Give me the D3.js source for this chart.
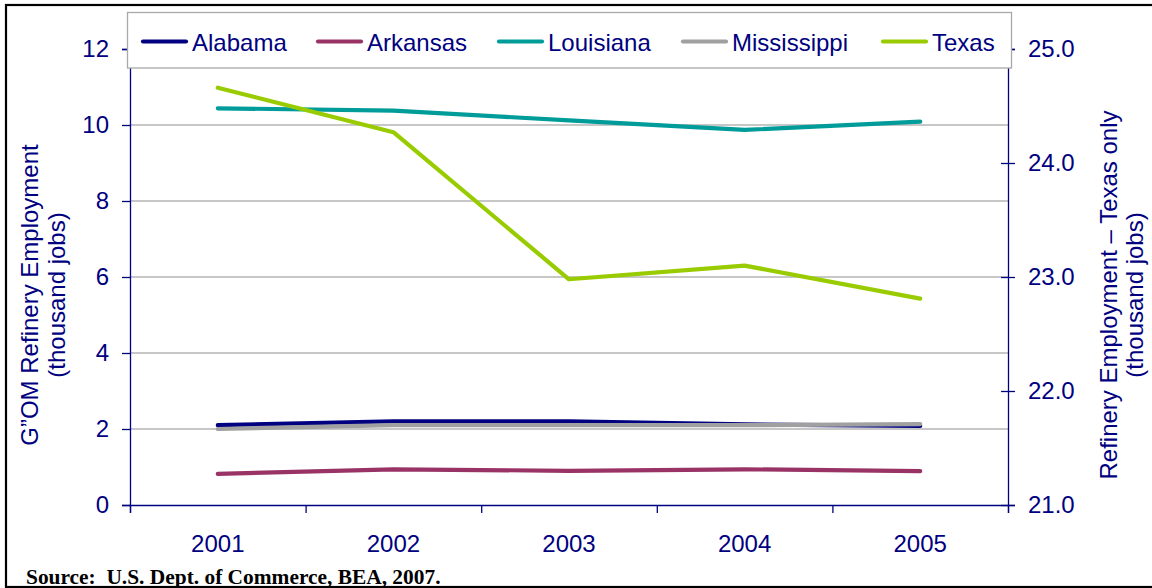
<!DOCTYPE html>
<html>
<head>
<meta charset="utf-8">
<script src="https://cdn.jsdelivr.net/npm/d3@7"></script>
<style>
  html, body { margin: 0; padding: 0; background: #fff; }
  svg { display: block; }
  text { font-family: "Liberation Sans", Arial, sans-serif; }
</style>
</head>
<body>
<svg id="chart" width="1152" height="588"></svg>
<script>
// ---- data ----
const years = ["2001", "2002", "2003", "2004", "2005"];
const alabama     = [2.10, 2.20, 2.20, 2.12, 2.08];
const arkansas    = [0.82, 0.94, 0.90, 0.94, 0.89];
const louisiana   = [10.44, 10.38, 10.12, 9.87, 10.09];
const mississippi = [2.00, 2.10, 2.10, 2.10, 2.13];
const texas       = [24.66, 24.27, 22.98, 23.10, 22.81];
const leftTicks  = [0, 2, 4, 6, 8, 10, 12];
const rightTicks = [21, 22, 23, 24, 25];
const seriesNames  = ["Alabama", "Arkansas", "Louisiana", "Mississippi", "Texas"];
const seriesColors = ["#000080", "#993366", "#009c9a", "#a0a0a0", "#99cc00"];

const series = [
  { name: seriesNames[0], values: alabama,     color: seriesColors[0], axis: "left" },
  { name: seriesNames[1], values: arkansas,    color: seriesColors[1], axis: "left" },
  { name: seriesNames[2], values: louisiana,   color: seriesColors[2], axis: "left" },
  { name: seriesNames[3], values: mississippi, color: seriesColors[3], axis: "left" },
  { name: seriesNames[4], values: texas,       color: seriesColors[4], axis: "right" }
];

const navy = "#000080";
const svg = d3.select("#chart");

// outer frame
svg.append("rect").attr("x", 6).attr("y", 5).attr("width", 1160).attr("height", 582)
  .attr("fill", "#fff").attr("stroke", "#000").attr("stroke-width", 2.2);

const L = 130, R = 1008, T = 49, B = 505;

const x = d3.scaleBand().domain(years).range([L, R]).padding(0);
const xEdges = d3.scaleLinear().domain([0, years.length]).range([L, R]);
const y = d3.scaleLinear().domain([0, 12]).range([B, T]);
const y2 = d3.scaleLinear().domain([21, 25]).range([B, T]);

// gridlines
svg.append("g").selectAll("line").data(leftTicks.filter(d => d > 0)).join("line")
  .attr("x1", L).attr("x2", R).attr("y1", d => y(d)).attr("y2", d => y(d))
  .attr("stroke", "#b4b4b4").attr("stroke-width", 1.5);

// left axis
const gl = svg.append("g").attr("transform", `translate(${L},0)`)
  .call(d3.axisLeft(y).tickValues(leftTicks).tickSize(8).tickPadding(13).tickFormat(d3.format("d")));
gl.select(".domain").attr("stroke", navy).attr("stroke-width", 1.3);
gl.selectAll(".tick line").attr("stroke", navy).attr("stroke-width", 1.3);
gl.selectAll(".tick text").attr("fill", navy).style("font-size", "24px")
  .style("font-family", "'Liberation Sans', Arial, sans-serif");

// right axis
const gr = svg.append("g").attr("transform", `translate(${R},0)`)
  .call(d3.axisRight(y2).tickValues(rightTicks).tickSize(7).tickPadding(13).tickFormat(d3.format(".1f")));
gr.select(".domain").attr("stroke", navy).attr("stroke-width", 1.3);
gr.selectAll(".tick line").attr("stroke", navy).attr("stroke-width", 1.3).attr("x1", -7);
gr.selectAll(".tick text").attr("fill", navy).style("font-size", "24px")
  .style("font-family", "'Liberation Sans', Arial, sans-serif");

// bottom axis: tick marks at band edges
const gb = svg.append("g").attr("transform", `translate(0,${B})`)
  .call(d3.axisBottom(xEdges).tickValues(d3.range(0, years.length + 1)).tickSize(8).tickFormat(""));
gb.select(".domain").attr("stroke", navy).attr("stroke-width", 1.3);
gb.selectAll(".tick line").attr("stroke", navy).attr("stroke-width", 1.3);
// labels
const gbl = svg.append("g").attr("transform", `translate(0,${B})`)
  .call(d3.axisBottom(x).tickSize(0).tickPadding(30));
gbl.select(".domain").remove();
gbl.selectAll(".tick text").attr("fill", navy).style("font-size", "24px")
  .style("font-family", "'Liberation Sans', Arial, sans-serif");

// lines
const cx = d => x(d) + x.bandwidth() / 2;
series.forEach(s => {
  const sc = s.axis === "left" ? y : y2;
  const line = d3.line().x((v, i) => cx(years[i])).y(v => sc(v));
  svg.append("path").datum(s.values).attr("d", line)
    .attr("fill", "none").attr("stroke", s.color).attr("stroke-width", 4.2)
    .attr("stroke-linejoin", "round").attr("stroke-linecap", "round");
});

// legend
svg.append("rect").attr("x", 127.5).attr("y", 12.5).attr("width", 884).attr("height", 55.5)
  .attr("fill", "#fff").attr("stroke", "#a8a8a8").attr("stroke-width", 1.3);
const legendX = [143, 318, 499, 683, 883];
series.forEach((s, i) => {
  svg.append("line").attr("x1", legendX[i]).attr("x2", legendX[i] + 43)
    .attr("y1", 41.5).attr("y2", 41.5).attr("stroke", s.color).attr("stroke-width", 4.2)
    .attr("stroke-linecap", "round");
  svg.append("text").attr("x", legendX[i] + 49).attr("y", 51)
    .attr("fill", navy).style("font-size", "24px").text(s.name);
});

// axis titles
const lt = svg.append("text").attr("transform", "translate(38,295) rotate(-90)")
  .attr("text-anchor", "middle").attr("fill", navy).style("font-size", "24px");
lt.append("tspan").attr("x", 0).attr("y", 0).text("G”OM Refinery Employment");
lt.append("tspan").attr("x", 0).attr("y", 27).text("(thousand jobs)");

const rt = svg.append("text").attr("transform", "translate(1117,295) rotate(-90)")
  .attr("text-anchor", "middle").attr("fill", navy).style("font-size", "24px");
rt.append("tspan").attr("x", 0).attr("y", 0).text("Refinery Employment – Texas only");
rt.append("tspan").attr("x", 0).attr("y", 26).text("(thousand jobs)");

// source
svg.append("text").attr("x", 26).attr("y", 584)
  .style("font-family", "'Liberation Serif', 'Times New Roman', serif")
  .style("font-weight", "bold").style("font-size", "21.4px").attr("fill", "#000")
  .attr("xml:space", "preserve")
  .text("Source:  U.S. Dept. of Commerce, BEA, 2007.");
</script>
</body>
</html>
